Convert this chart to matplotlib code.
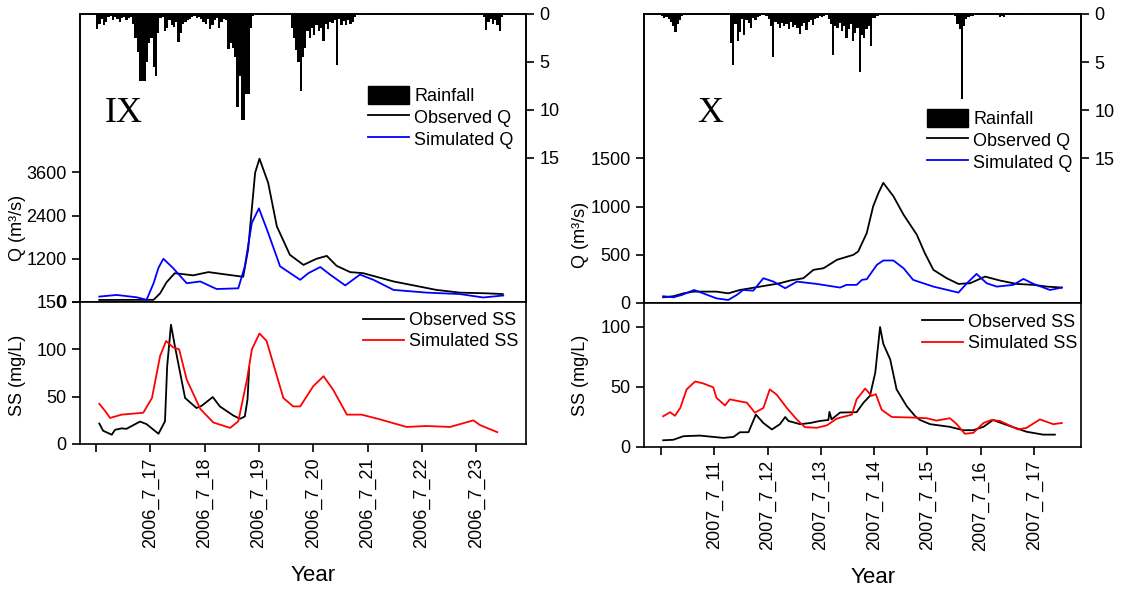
import matplotlib
matplotlib.use("Agg")
import numpy as np
import matplotlib.pyplot as plt
from matplotlib.patches import Patch
from matplotlib.lines import Line2D

plt.rcParams['font.family'] = ['Liberation Sans', 'DejaVu Sans']

# ---------------- Event IX (July 2006) ----------------
ix_ticks = [16, 17, 18, 19, 20, 21, 22, 23]
ix_ticklabels = ["", "2006_7_17", "2006_7_18", "2006_7_19", "2006_7_20",
                 "2006_7_21", "2006_7_22", "2006_7_23"]

# hourly rainfall (mm) from 2006-07-16 00:00
ix_rain = (
    [1.6, 1.0, 0.5, 1.2, 0.8, 0.3, 0.2, 0.6, 0.3, 0.5, 0.8, 0.4,
     0.3, 0.6, 0.4, 0.3, 1.0, 2.5, 4.0, 7.0, 7.0, 7.0, 5.0, 3.0]
    + [2.5, 5.5, 6.5, 2.0, 0.4, 0.3, 1.8, 1.5, 0.6, 1.2, 1.4, 0.8,
       2.9, 2.0, 1.0, 0.8, 0.6, 0.5, 0.3, 0.2, 0.4, 0.3, 0.5, 0.8]
    + [1.0, 0.5, 1.6, 1.2, 0.6, 0.4, 1.5, 0.8, 0.5, 0.6, 3.6, 3.0,
       3.5, 4.5, 9.7, 6.5, 11.0, 11.0, 8.3, 8.3, 1.5, 0.2, 0.0, 0.0]
    + [0.0, 0.0, 0.1, 0.0, 0.0, 0.0, 0.0, 0.0, 0.0, 0.0, 0.0, 0.0,
       0.0, 0.0, 1.5, 2.5, 3.8, 5.0, 8.0, 4.5, 3.5, 1.8, 2.5, 1.5]
    + [2.2, 1.2, 1.8, 1.5, 2.8, 1.0, 1.6, 0.8, 0.9, 0.6, 5.3, 0.5,
       1.2, 0.7, 1.2, 0.6, 1.0, 0.8, 0.3, 0.1, 0.0, 0.0, 0.0, 0.0]
    + [0.0, 0.1, 0.0, 0.0, 0.1, 0.0, 0.0, 0.0, 0.1, 0.0, 0.0, 0.0,
       0.0, 0.0, 0.0, 0.1, 0.0, 0.0, 0.0, 0.0, 0.0, 0.0, 0.0, 0.0]
    + [0.0, 0.0, 0.0, 0.0, 0.0, 0.0, 0.0, 0.0, 0.0, 0.0, 0.0, 0.0,
       0.0, 0.0, 0.0, 0.0, 0.0, 0.0, 0.0, 0.0, 0.1, 0.0, 0.0, 0.0]
    + [0.0, 0.1, 0.0, 0.3, 1.7, 0.8, 0.5, 1.0, 0.6, 1.1, 1.8, 0.3]
)

ix_q_obs_t = [16.06, 17.06, 17.18, 17.30, 17.45, 17.79, 18.07, 18.41, 18.71, 18.80,
              18.93, 19.01, 19.17, 19.33, 19.57, 19.82, 20.06, 20.25, 20.43, 20.68,
              20.92, 21.48, 22.27, 22.70, 23.20, 23.49]
ix_q_obs = [56, 60, 240, 550, 800, 740, 830, 760, 700, 1450,
            3590, 3980, 3310, 2100, 1310, 1030, 1200, 1280, 1005, 830,
            800, 570, 335, 260, 240, 220]

ix_q_sim_t = [16.06, 16.38, 16.75, 16.93, 17.06, 17.15, 17.24, 17.42, 17.67, 17.92,
              18.22, 18.62, 18.74, 18.87, 19.00, 19.17, 19.39, 19.76, 19.91, 20.13,
              20.31, 20.59, 20.86, 21.11, 21.48, 22.09, 22.70, 23.13, 23.50]
ix_q_sim = [150, 195, 130, 60, 520, 950, 1200, 940, 520, 570,
            360, 380, 990, 2200, 2600, 1920, 990, 615, 800, 970,
            760, 460, 760, 615, 335, 260, 220, 125, 180]

ix_ss_obs_t = [16.06, 16.13, 16.29, 16.35, 16.47, 16.56, 16.81, 16.93, 17.15, 17.27,
               17.31, 17.38, 17.45, 17.64, 17.85, 17.95, 18.15, 18.28, 18.53, 18.65,
               18.74, 18.79, 18.82]
ix_ss_obs = [21.6, 14, 9.8, 15, 16.5, 16, 23.7, 21, 10.8, 24,
             82, 126, 104, 48.6, 38, 40.5, 49.6, 39.7, 30, 26.6,
             29, 47, 80.5]

ix_ss_sim_t = [16.06, 16.17, 16.26, 16.47, 16.87, 17.03, 17.18, 17.29, 17.42, 17.53,
               17.67, 17.92, 18.16, 18.47, 18.62, 18.78, 18.87, 19.01, 19.14, 19.45,
               19.63, 19.76, 20.00, 20.19, 20.37, 20.62, 20.89, 21.23, 21.72, 22.09,
               22.52, 22.95, 23.07, 23.39]
ix_ss_sim = [42.5, 34.6, 27.5, 31, 33, 48.6, 93, 108.8, 102, 100,
             68, 37, 22.7, 17, 24, 68, 100, 116.7, 109, 48.6,
             39.7, 39.7, 61, 71.6, 57, 31, 31, 26, 18, 19,
             18, 25, 20, 12.5]

# ---------------- Event X (July 2007) ----------------
x_ticks = [10, 11, 12, 13, 14, 15, 16, 17]
x_ticklabels = ["", "2007_7_11", "2007_7_12", "2007_7_13", "2007_7_14",
                "2007_7_15", "2007_7_16", "2007_7_17"]

# hourly rainfall (mm) from 2007-07-10 00:00
x_rain = (
    [0.2, 0.4, 0.3, 0.5, 0.8, 1.2, 1.9, 1.0, 0.6, 0.2, 0.1, 0.1,
     0.1, 0.0, 0.1, 0.1, 0.1, 0.0, 0.1, 0.1, 0.1, 0.1, 0.1, 0.1]
    + [0.1, 0.0, 0.1, 0.0, 0.1, 0.0, 0.1, 3.0, 5.3, 1.0, 2.8, 1.9,
       0.5, 2.2, 0.6, 0.9, 1.5, 0.4, 0.6, 0.3, 0.2, 0.1, 0.1, 0.2]
    + [0.5, 1.2, 4.5, 0.8, 1.0, 1.5, 0.9, 1.2, 1.0, 1.6, 0.8, 1.4,
       1.1, 1.5, 2.1, 1.3, 0.9, 1.7, 0.8, 0.6, 1.1, 0.5, 0.4, 0.2]
    + [0.3, 0.2, 0.1, 0.5, 1.0, 4.3, 1.2, 1.5, 0.9, 1.8, 1.3, 2.5,
       1.6, 1.0, 2.8, 2.0, 1.5, 6.0, 2.2, 2.5, 1.6, 1.2, 3.3, 0.4]
    + [0.4, 0.2, 0.1, 0.1, 0.0, 0.1, 0.1, 0.1, 0.0, 0.0, 0.1, 0.0,
       0.1, 0.0, 0.1, 0.1, 0.0, 0.1, 0.0, 0.0, 0.1, 0.0, 0.0, 0.1]
    + [0.0, 0.0, 0.0, 0.0, 0.0, 0.0, 0.0, 0.0, 0.0, 0.0, 0.0, 0.0,
       0.2, 1.0, 1.6, 8.8, 1.2, 0.5, 0.3, 0.2, 0.2, 0.1, 0.1, 0.1]
    + [0.1, 0.0, 0.1, 0.0, 0.1, 0.1, 0.0, 0.1, 0.3, 0.2, 0.3, 0.1,
       0.0, 0.1, 0.0, 0.0, 0.1, 0.0, 0.0, 0.1, 0.0, 0.0, 0.0, 0.0]
    + [0.0, 0.1, 0.0, 0.0, 0.0, 0.1, 0.0, 0.0, 0.0, 0.0, 0.0, 0.0]
)

x_q_obs_t = [10.04, 10.23, 10.42, 10.61, 11.04, 11.26, 11.48, 11.86, 12.23, 12.42,
             12.67, 12.86, 13.05, 13.30, 13.61, 13.70, 13.86, 13.98, 14.08, 14.17,
             14.36, 14.55, 14.80, 14.95, 15.11, 15.36, 15.58, 15.80, 16.08, 16.36,
             16.67, 16.99, 17.24, 17.52]
x_q_obs = [59, 70, 100, 118, 118, 100, 135, 170, 205, 233,
           257, 344, 361, 448, 500, 535, 726, 1003, 1142, 1247,
           1108, 917, 708, 517, 344, 257, 198, 205, 274, 233,
           198, 188, 170, 160]

x_q_sim_t = [10.04, 10.23, 10.39, 10.62, 10.79, 11.04, 11.26, 11.42, 11.54, 11.73,
             11.92, 12.11, 12.33, 12.55, 12.70, 12.92, 13.36, 13.48, 13.67, 13.77,
             13.86, 14.05, 14.17, 14.36, 14.55, 14.73, 15.11, 15.58, 15.74, 15.92,
             16.11, 16.30, 16.61, 16.80, 16.99, 17.30, 17.52]
x_q_sim = [70, 59, 83, 135, 100, 48, 31, 83, 135, 128,
           257, 222, 153, 222, 212, 198, 160, 188, 188, 240,
           247, 396, 441, 441, 361, 240, 170, 108, 205, 302,
           205, 170, 188, 250, 198, 135, 160]

x_ss_obs_t = [10.04, 10.23, 10.42, 10.73, 10.98, 11.17, 11.36, 11.48, 11.64, 11.78,
              11.92, 12.08, 12.23, 12.33, 12.39, 12.61, 12.80, 12.98, 13.14, 13.16,
              13.20, 13.36, 13.67, 13.80, 13.92, 14.02, 14.11, 14.17, 14.30, 14.42,
              14.61, 14.77, 14.86, 15.05, 15.42, 15.67, 15.86, 16.05, 16.23, 16.49,
              16.86, 17.17, 17.39]
x_ss_obs = [5.6, 6, 9, 9.5, 8.4, 7.6, 8.4, 12.3, 12.3, 27,
            20, 14.6, 19, 25, 21.7, 19, 20, 21.7, 22.5, 29.3,
            23, 28.7, 29, 37, 42.6, 62, 100, 86, 73, 48,
            34, 25.6, 22.5, 19, 16.8, 14, 14, 16.8, 22.5, 18.3,
            12.7, 10.3, 10.3]

x_ss_sim_t = [10.04, 10.17, 10.26, 10.36, 10.48, 10.64, 10.79, 10.98, 11.04, 11.20,
              11.29, 11.48, 11.61, 11.76, 11.92, 12.04, 12.17, 12.36, 12.55, 12.70,
              12.92, 13.11, 13.30, 13.58, 13.67, 13.83, 13.95, 14.03, 14.14, 14.33,
              14.67, 14.98, 15.17, 15.42, 15.55, 15.70, 15.86, 16.05, 16.20, 16.36,
              16.70, 16.86, 17.11, 17.36, 17.52]
x_ss_sim = [25.6, 29, 26, 32.5, 48, 54.6, 53, 49.7, 41, 34.6,
            39.7, 38, 37, 28.6, 32.5, 48, 43.6, 32.5, 22.8, 16.5,
            16, 18, 23.7, 27, 39.7, 48.7, 42.6, 44, 31, 25,
            24.6, 24, 22, 24, 19, 11, 11.8, 20, 22.5, 21.7,
            14.6, 16, 23, 19, 20]

FS = 13
LW_AX = 1.2


def style_ticks(ax):
    ax.tick_params(direction='out', length=6, width=LW_AX, labelsize=FS)
    for s in ax.spines.values():
        s.set_linewidth(LW_AX)


def draw_event(fig, rect_top, rect_bot, start_day, rain, q_obs_t, q_obs, q_sim_t, q_sim,
               ss_obs_t, ss_obs, ss_sim_t, ss_sim, ticks, ticklabels, xlim,
               q_max, q_ticks, ss_max, ss_ticks, ylab_x, q_lab_y, ss_lab_y,
               year_pos, leg_q, leg_ss):
    ax_q = fig.add_axes(rect_top)
    ax_r = ax_q.twinx()
    ax_s = fig.add_axes(rect_bot)

    # discharge
    ax_q.plot(q_obs_t, q_obs, color='black', lw=1.3)
    ax_q.plot(q_sim_t, q_sim, color='blue', lw=1.3)
    ax_q.set_xlim(*xlim)
    ax_q.set_ylim(0, q_max)
    ax_q.set_yticks(q_ticks)
    ax_q.tick_params(axis='x', bottom=False, labelbottom=False)
    ax_q.set_ylabel("Q (m³/s)", fontsize=FS)
    ax_q.yaxis.set_label_coords(ylab_x, q_lab_y)
    style_ticks(ax_q)

    # rainfall hanging from the top
    t_rain = start_day + np.arange(len(rain)) / 24.0
    ax_r.bar(t_rain, rain, width=1 / 24.0, align='edge', color='black', linewidth=0)
    ax_r.set_ylim(30, 0)
    ax_r.set_yticks([0, 5, 10, 15])
    ax_r.set_xlim(*xlim)
    style_ticks(ax_r)

    handles = [Patch(facecolor='black', edgecolor='black'),
               Line2D([], [], color='black', lw=1.3),
               Line2D([], [], color='blue', lw=1.3)]
    ax_r.legend(handles, ["Rainfall", "Observed Q", "Simulated Q"],
                loc='upper left', bbox_to_anchor=leg_q, frameon=False, fontsize=FS,
                handlelength=2.25, handleheight=1.15, handletextpad=0.3,
                labelspacing=0.15, borderpad=0, borderaxespad=0)

    # suspended sediment
    ax_s.plot(ss_obs_t, ss_obs, color='black', lw=1.3, label="Observed SS")
    ax_s.plot(ss_sim_t, ss_sim, color='red', lw=1.3, label="Simulated SS")
    ax_s.set_xlim(*xlim)
    ax_s.set_ylim(0, ss_max)
    ax_s.set_yticks(ss_ticks)
    ax_s.set_xticks(ticks)
    ax_s.set_xticklabels(ticklabels, rotation=90)
    ax_s.set_ylabel("SS (mg/L)", fontsize=FS)
    ax_s.yaxis.set_label_coords(ylab_x, ss_lab_y)
    ax_s.set_xlabel("Year", fontsize=16)
    ax_s.xaxis.set_label_coords(*year_pos)
    style_ticks(ax_s)
    ax_s.legend(loc='upper left', bbox_to_anchor=leg_ss, frameon=False, fontsize=FS,
                handlelength=2.25, handletextpad=0.3, labelspacing=0.25,
                borderpad=0, borderaxespad=0)


fig = plt.figure(figsize=(11.35, 5.89), dpi=100)

draw_event(fig, [0.0705, 0.4873, 0.3930, 0.4890], [0.0705, 0.2462, 0.3930, 0.2411],
           16.0, ix_rain, ix_q_obs_t, ix_q_obs, ix_q_sim_t, ix_q_sim,
           ix_ss_obs_t, ix_ss_obs, ix_ss_sim_t, ix_ss_sim,
           ix_ticks, ix_ticklabels, (15.705, 23.92),
           8000, [0, 1200, 2400, 3600], 150, [0, 50, 100, 150],
           -0.122, 0.257, 0.486, (0.522, -0.852),
           (0.646, 0.75), (0.635, 0.93))

draw_event(fig, [0.5674, 0.4856, 0.3850, 0.4907], [0.5674, 0.2411, 0.3850, 0.2445],
           10.0, x_rain, x_q_obs_t, x_q_obs, x_q_sim_t, x_q_sim,
           x_ss_obs_t, x_ss_obs, x_ss_sim_t, x_ss_sim,
           x_ticks, x_ticklabels, (9.68, 17.88),
           3000, [0, 500, 1000, 1500], 120, [0, 50, 100],
           -0.125, 0.235, 0.5, (0.524, -0.833),
           (0.648, 0.671), (0.636, 0.925))

fig.text(0.0925, 0.808, "IX", family='Liberation Serif', fontsize=26, va='center')
fig.text(0.614, 0.808, "X", family='Liberation Serif', fontsize=26, va='center')

fig.savefig("out.png", dpi=100)
